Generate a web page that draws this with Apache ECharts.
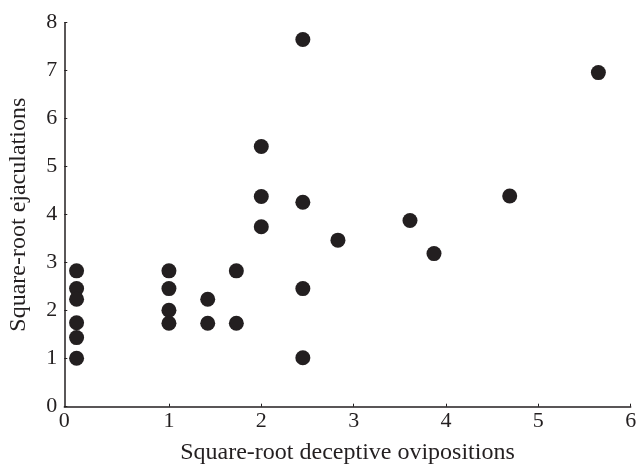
<!DOCTYPE html>
<html>
<head>
<meta charset="utf-8">
<script src="https://cdn.jsdelivr.net/npm/echarts@6/dist/echarts.min.js"></script>
<style>html,body{margin:0;padding:0;background:#fff}#c{width:637px;height:468px}</style>
</head>
<body>
<div id="c"></div>
<script>
// Square-root deceptive ovipositions (x) and square-root ejaculations (y)
const xValues = [0, 0, 0, 0, 0, 0,
  1, 1, 1, 1,
  1.42, 1.42,
  1.73, 1.73,
  2, 2, 2,
  2.45, 2.45, 2.45, 2.45,
  2.83,
  3.61,
  3.87,
  4.69,
  5.65];
const yValues = [2.83, 2.46, 2.24, 1.75, 1.44, 1.01,
  2.83, 2.46, 2.01, 1.74,
  2.24, 1.74,
  2.83, 1.74,
  5.42, 4.38, 3.75,
  7.65, 4.26, 2.46, 1.02,
  3.47,
  3.88,
  3.19,
  4.39,
  6.96];
const xTicks = [1, 2, 3, 4, 5, 6];
const yTicks = [0, 1, 2, 3, 4, 5, 6, 7, 8];
const xAxisStart = -0.133;

const points = xValues.map((x, i) => [x, yValues[i]]);
const font = 'Liberation Serif';

const chart = echarts.init(document.getElementById('c'), null, {renderer: 'canvas'});
chart.setOption({
  animation: false,
  grid: {left: 64.3, right: 6.3, top: 22.7, bottom: 61.3, containLabel: false, outerBoundsMode: 'none'},
  xAxis: {
    type: 'value',
    min: xAxisStart,
    max: 6,
    name: 'Square-root deceptive ovipositions',
    nameLocation: 'middle',
    nameGap: 34,
    nameTextStyle: {fontFamily: font, fontSize: 24, color: '#231f20'},
    axisLine: {show: true, onZero: false, lineStyle: {color: '#231f20', width: 1.5}},
    axisTick: {show: true, inside: true, length: 3, customValues: xTicks, lineStyle: {color: '#231f20', width: 1}},
    axisLabel: {
      fontFamily: font, fontSize: 22, color: '#231f20', margin: 4,
      customValues: [xAxisStart].concat(xTicks),
      formatter: v => (v < 0.5 ? '0' : String(Math.round(v)))
    },
    splitLine: {show: false}
  },
  yAxis: {
    type: 'value',
    min: 0,
    max: 8,
    interval: 1,
    name: 'Square-root ejaculations',
    nameLocation: 'middle',
    nameGap: 34,
    nameTextStyle: {fontFamily: font, fontSize: 24, color: '#231f20'},
    axisLine: {show: true, onZero: false, lineStyle: {color: '#231f20', width: 1.5}},
    axisTick: {show: true, inside: true, length: 3, lineStyle: {color: '#231f20', width: 1}},
    axisLabel: {fontFamily: font, fontSize: 22, color: '#231f20', margin: 7,
      formatter: v => String(v)},
    splitLine: {show: false}
  },
  series: [{
    type: 'scatter',
    data: points,
    symbol: 'circle',
    symbolSize: 15,
    itemStyle: {color: '#231f20', opacity: 1}
  }]
});
</script>
</body>
</html>
